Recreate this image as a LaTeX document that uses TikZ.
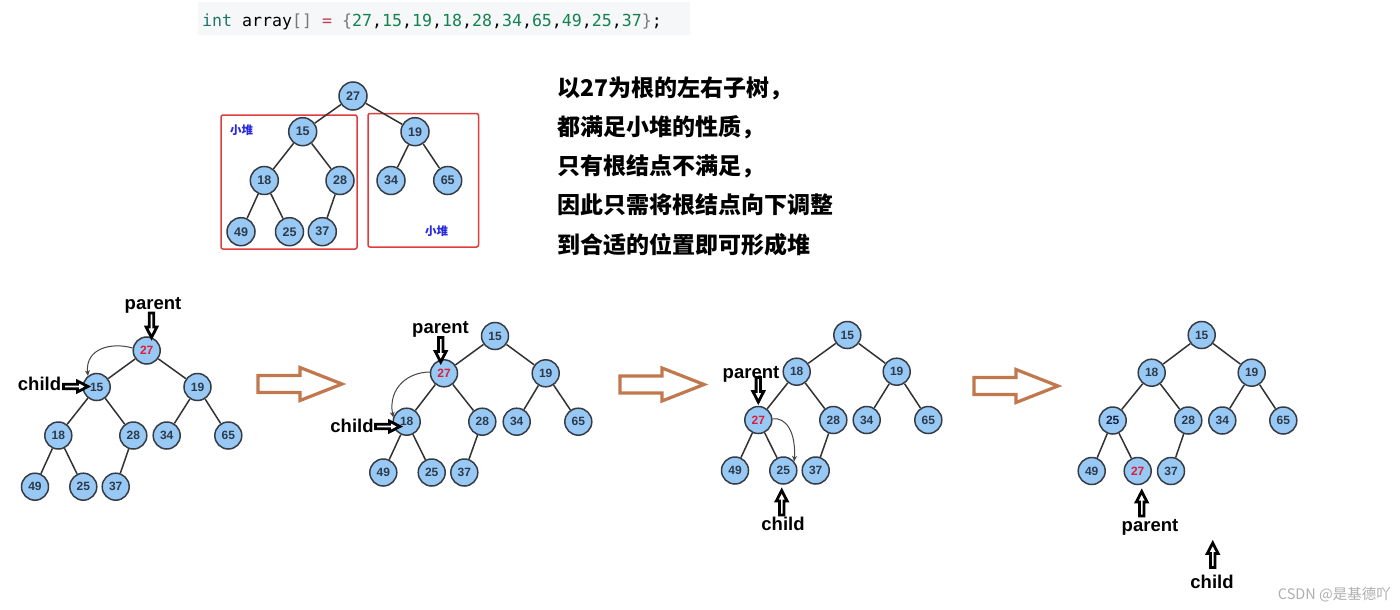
\documentclass[tikz,border=0pt]{standalone}
\usepackage{fontspec}
\setmainfont{Liberation Sans}
\newfontfamily\cjk{Noto Sans CJK SC}
\newfontfamily\codefont{DejaVu Sans Mono}
\usetikzlibrary{arrows.meta}
\definecolor{nodefill}{RGB}{152,201,245}
\definecolor{nodeline}{RGB}{55,60,68}
\definecolor{numcol}{RGB}{45,58,74}
\definecolor{deepnum}{RGB}{20,32,70}
\definecolor{hotred}{RGB}{222,30,55}
\definecolor{edgecol}{RGB}{50,50,50}
\definecolor{boxred}{RGB}{225,60,60}
\definecolor{heapblue}{RGB}{40,40,225}
\definecolor{brownarr}{RGB}{193,120,78}
\definecolor{codebg}{RGB}{246,247,248}
\definecolor{kwcol}{RGB}{30,120,105}
\definecolor{numgreen}{RGB}{20,130,80}
\definecolor{opcol}{RGB}{190,60,90}
\definecolor{brcol}{RGB}{120,120,120}
\definecolor{markgray}{RGB}{175,175,175}
\definecolor{curvecol}{RGB}{70,70,70}
\begin{document}
\begin{tikzpicture}[x=1pt,y=-1pt,
  hn/.style={circle, draw=nodeline, fill=nodefill, line width=1.5pt, minimum size=28pt, inner sep=0pt,
    font=\bfseries\fontsize{12.5}{12.5}\selectfont},
  sn/.style={hn, minimum size=27pt, font=\bfseries\fontsize{12}{12}\selectfont},
  edge/.style={draw=edgecol, line width=1.5pt},
  lbl/.style={font=\bfseries\fontsize{18.5}{18.5}\selectfont, inner sep=0pt, anchor=base},
  curv/.style={draw=curvecol, line width=1pt, -{Stealth[length=5.5pt,width=5pt]}},
  heapbox/.style={draw=boxred, line width=1.5pt, rounded corners=2pt},
  heaplbl/.style={text=heapblue, font=\cjk\bfseries\fontsize{11.5}{11.5}\selectfont, inner sep=0pt},
  cjktext/.style={font=\cjk\bfseries\fontsize{23}{23}\selectfont, inner sep=0pt, anchor=base west},
  blk/.pic={\draw[line width=2.8pt, fill=white] (-12.5,-2.2) -- (1.5,-2.2) -- (1.5,-5.4) -- (12,0) -- (1.5,5.4) -- (1.5,2.2) -- (-12.5,2.2) -- cycle;},
  bigarr/.pic={\draw[draw=brownarr, line width=3.2pt, fill=white] (0,-8.5) -- (42,-8.5) -- (42,-16.5) -- (84,0) -- (42,16.5) -- (42,8.5) -- (0,8.5) -- cycle;}
]
\useasboundingbox (0,0) rectangle (1400,610);
\fill[white] (0,0) rectangle (1400,610);

% code line
\fill[codebg] (198,2) rectangle (690,35);
\node[anchor=base west, inner sep=0pt, font=\codefont\fontsize{16.6}{20}\selectfont] (code) at (202,27)
  {\textcolor{kwcol}{int} \textcolor{black}{array}\textcolor{brcol}{[]} \textcolor{opcol}{=} \textcolor{brcol}{\{}\textcolor{numgreen}{27}\textcolor{black}{,}\textcolor{numgreen}{15}\textcolor{black}{,}\textcolor{numgreen}{19}\textcolor{black}{,}\textcolor{numgreen}{18}\textcolor{black}{,}\textcolor{numgreen}{28}\textcolor{black}{,}\textcolor{numgreen}{34}\textcolor{black}{,}\textcolor{numgreen}{65}\textcolor{black}{,}\textcolor{numgreen}{49}\textcolor{black}{,}\textcolor{numgreen}{25}\textcolor{black}{,}\textcolor{numgreen}{37}\textcolor{brcol}{\}}\textcolor{black}{;}};

% top tree
\draw[heapbox] (221,115) rectangle (357,249);
\draw[heapbox] (368,113.5) rectangle (478.5,247);
\node[heaplbl] (h1) at (241.5,130) {小堆};
\node[heaplbl] (h2) at (436.5,231) {小堆};
\foreach \i/\x/\y/\l in {0/353/96/27, 1/302.7/131.7/15, 2/415/131.7/19, 3/264.3/180.5/18, 4/340/180.5/28,
  5/391/180.5/34, 6/447.7/180.5/65, 7/241/231.7/49, 8/289.5/231.7/25, 9/322.3/231.7/37}
  \node[hn, text=numcol] (a\i) at (\x,\y) {\l};

% tree B
\foreach \i/\x/\y/\l/\c in {0/146.7/350.5/27/hotred, 1/96.7/387/15/numcol, 2/197.5/387/19/numcol, 3/58.3/435.5/18/numcol,
  4/133.3/435.5/28/numcol, 5/166.7/435.5/34/numcol, 6/228.3/435.5/65/numcol, 7/35/486.7/49/numcol,
  8/83.3/486.7/25/numcol, 9/115.7/486.7/37/numcol}
  \node[sn, text=\c] (b\i) at (\x,\y) {\l};

% tree C
\foreach \i/\x/\y/\l/\c in {0/495/336/15/numcol, 1/444/373.3/27/hotred, 2/545.7/373.3/19/numcol, 3/406.7/421.7/18/numcol,
  4/482.3/421.7/28/numcol, 5/516.7/421.7/34/numcol, 6/578.3/421.7/65/numcol, 7/383.3/472.5/49/numcol,
  8/431.7/472.5/25/numcol, 9/464.3/472.5/37/numcol}
  \node[sn, text=\c] (c\i) at (\x,\y) {\l};

% tree D
\foreach \i/\x/\y/\l/\c in {0/847.3/335/15/numcol, 1/796.7/371.7/18/numcol, 2/896.7/371.7/19/numcol, 3/758.3/420/27/hotred,
  4/833.3/420/28/numcol, 5/866.7/420/34/numcol, 6/928.3/420/65/numcol, 7/735/470.5/49/numcol,
  8/783.3/470.5/25/numcol, 9/815.7/470.5/37/numcol}
  \node[sn, text=\c] (d\i) at (\x,\y) {\l};

% tree E
\foreach \i/\x/\y/\l/\c in {0/1201.7/335/15/numcol, 1/1151.7/372.7/18/numcol, 2/1251.7/372.7/19/numcol, 3/1112.7/420.5/25/deepnum,
  4/1188.3/420.5/28/numcol, 5/1222.3/420.5/34/numcol, 6/1283.3/420.5/65/numcol, 7/1091.7/471/49/numcol,
  8/1137.7/471/27/hotred, 9/1171/471/37/numcol}
  \node[sn, text=\c] (e\i) at (\x,\y) {\l};

% edges
\foreach \t in {a,b,c,d,e}
  \foreach \p/\q in {0/1,0/2,1/3,1/4,2/5,2/6,3/7,3/8,4/9}
    \draw[edge] (\t\p) -- (\t\q);

% curved swap arrows
\draw[curv] (b0.170) .. controls (112,342) and (85,348) .. (b1.128);
\draw[curv] (c1.175) .. controls (408,372) and (388,388) .. (c3.162);
\draw[curv] (d3.5) .. controls (786,417) and (796,432) .. (d8.40);

% parent / child labels and block arrows
\node[lbl] (bp) at (153,309.5) {parent};
\pic[rotate=-90] at (151.5,325.5) {blk};
\node[lbl] (bc) at (39.5,390) {child};
\pic at (76,386.5) {blk};

\node[lbl] (cp) at (440.5,333.3) {parent};
\pic[rotate=-90] at (440.7,350) {blk};
\node[lbl] (cc) at (352,432.7) {child};
\pic at (388,426.5) {blk};

\node[lbl] (dp) at (751,378.3) {parent};
\pic[rotate=-90] at (758.3,390) {blk};
\node[lbl] (dc) at (783,530) {child};
\pic[rotate=90] at (781.7,502.5) {blk};

\node[lbl] (ep) at (1150,531.7) {parent};
\pic[rotate=90] at (1141.7,503.5) {blk};
\node[lbl] (ec) at (1212,588.3) {child};
\pic[rotate=90] at (1212.7,555) {blk};

% big brown arrows
\pic at (258,384) {bigarr};
\pic at (620,384.5) {bigarr};
\pic at (974,386) {bigarr};

% explanation text
\node[cjktext] (t1) at (557,96.5) {以27为根的左右子树，};
\node[cjktext] (t2) at (557,135.5) {都满足小堆的性质，};
\node[cjktext] (t3) at (557,174) {只有根结点不满足，};
\node[cjktext] (t4) at (557,213.5) {因此只需将根结点向下调整};
\node[cjktext] (t5) at (557,253.5) {到合适的位置即可形成堆};

% watermark
\node[anchor=base east, inner sep=0pt, text=markgray, font=\cjk\fontsize{14.5}{14.5}\selectfont] (wm) at (1391,599) {CSDN @是基德吖};
\end{tikzpicture}
\end{document}
